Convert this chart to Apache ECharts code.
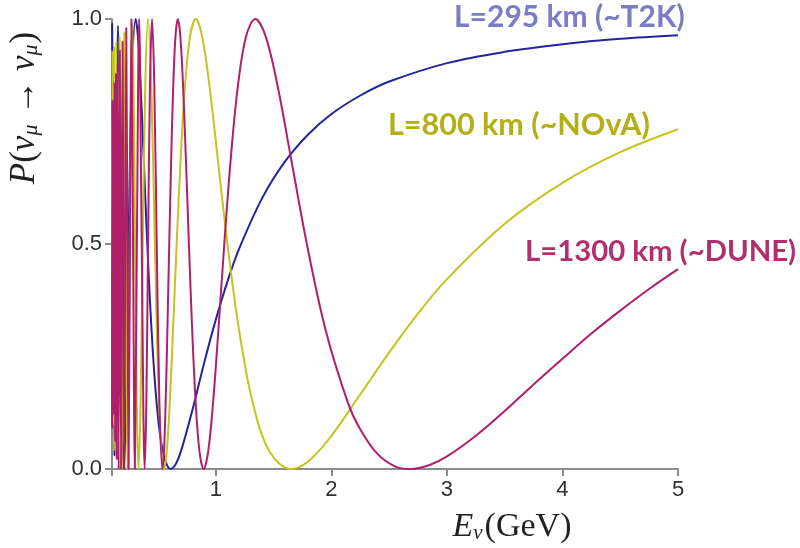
<!DOCTYPE html>
<html>
<head>
<meta charset="utf-8">
<script src="https://cdn.jsdelivr.net/npm/echarts@6/dist/echarts.min.js"></script>
<style>
html, body { margin: 0; padding: 0; background: #fff; }
#chart { width: 800px; height: 548px; }
</style>
</head>
<body>
<div id="chart"></div>
<script>
// survival probability, [E (GeV), P]
var t2kData = [
    [0.100, 0.98], [0.1014, 0.99], [0.1106, 0.50], [0.1216, 0.03], [0.1352, 0.50],
    [0.1521, 0.985], [0.1622, 0.854], [0.1738, 0.50], [0.1871, 0.146], [0.2027, 0.00],
    [0.2212, 0.146], [0.2433, 0.50], [0.2703, 0.854], [0.3041, 1.00], [0.3244, 0.962],
    [0.3476, 0.854], [0.3743, 0.691], [0.4055, 0.50], [0.4424, 0.309], [0.4866, 0.146],
    [0.5407, 0.038], [0.6082, 0.00], [0.65, 0.010], [0.70, 0.042], [0.80, 0.135],
    [0.90, 0.238], [1.00, 0.333], [1.10, 0.417], [1.20, 0.489], [1.40, 0.602],
    [1.60, 0.684], [1.80, 0.744], [2.00, 0.789], [2.25, 0.830], [2.50, 0.861],
    [3.00, 0.902], [3.50, 0.927], [4.00, 0.944], [4.50, 0.956], [5.00, 0.964]
];
var novaData = [
    [0.100, 0.51], [0.1031, 0.93], [0.1100, 0.10], [0.1178, 0.94], [0.1269, 0.04],
    [0.1374, 0.95], [0.1499, 0.02], [0.1649, 0.96], [0.1736, 0.50], [0.1833, 0.00],
    [0.1940, 0.50], [0.2062, 0.97], [0.2199, 0.50], [0.2356, 0.00], [0.2538, 0.50],
    [0.2749, 0.99], [0.2869, 0.854], [0.2999, 0.50], [0.3142, 0.146], [0.3299, 0.00],
    [0.3472, 0.146], [0.3665, 0.50], [0.3881, 0.854], [0.4123, 1.00], [0.4398, 0.854],
    [0.4712, 0.50], [0.5075, 0.146], [0.5498, 0.00], [0.5737, 0.038], [0.5998, 0.146],
    [0.6283, 0.309], [0.6597, 0.50], [0.6945, 0.691], [0.7331, 0.854], [0.7762, 0.962],
    [0.8247, 1.00], [0.8797, 0.962], [0.9425, 0.854], [1.0150, 0.691], [1.0996, 0.50],
    [1.1996, 0.309], [1.3195, 0.146], [1.4661, 0.038], [1.6494, 0.00], [1.80, 0.017],
    [2.00, 0.074], [2.25, 0.166], [2.50, 0.259], [2.75, 0.346], [3.00, 0.422],
    [3.50, 0.545], [4.00, 0.636], [4.50, 0.704], [5.00, 0.755]
];
var duneData = [
    [0.100, 0.09], [0.1031, 0.82], [0.1072, 0.17], [0.1117, 0.82], [0.1165, 0.12],
    [0.1218, 0.86], [0.1276, 0.06], [0.1340, 0.88], [0.1411, 0.02], [0.1489, 0.90],
    [0.1577, 0.00], [0.1675, 0.93], [0.1729, 0.50], [0.1787, 0.00], [0.1848, 0.50],
    [0.1914, 0.95], [0.1985, 0.50], [0.2062, 0.00], [0.2144, 0.50], [0.2234, 0.98],
    [0.2331, 0.50], [0.2437, 0.00], [0.2553, 0.50], [0.2680, 1.00], [0.2821, 0.50],
    [0.2978, 0.00], [0.3153, 0.50], [0.3350, 1.00], [0.3574, 0.50], [0.3829, 0.00],
    [0.3971, 0.146], [0.4123, 0.50], [0.4288, 0.854], [0.4467, 1.00], [0.4661, 0.854],
    [0.4873, 0.50], [0.5105, 0.146], [0.5360, 0.00], [0.5498, 0.038], [0.5643, 0.146],
    [0.5795, 0.309], [0.5956, 0.50], [0.6126, 0.691], [0.6306, 0.854], [0.6497, 0.962],
    [0.6700, 1.00], [0.6917, 0.962], [0.7147, 0.854], [0.7394, 0.691], [0.7658, 0.50],
    [0.7941, 0.309], [0.8247, 0.146], [0.8577, 0.038], [0.8934, 0.00], [0.9322, 0.038],
    [0.9746, 0.146], [1.0210, 0.309], [1.0721, 0.50], [1.1285, 0.691], [1.1912, 0.854],
    [1.2613, 0.962], [1.3401, 1.00], [1.4294, 0.962], [1.5315, 0.854], [1.6493, 0.691],
    [1.7868, 0.50], [1.9492, 0.309], [2.1441, 0.146], [2.25, 0.088], [2.40, 0.033],
    [2.55, 0.006], [2.68, 0.00], [2.85, 0.009], [3.00, 0.028], [3.25, 0.074],
    [3.50, 0.129], [3.75, 0.188], [4.00, 0.245], [4.25, 0.301], [4.50, 0.352],
    [4.75, 0.400], [5.00, 0.444]
];

var xTicks = [0.1, 1, 2, 3, 4, 5];
var xLabels = [1, 2, 3, 4, 5];
var curveNames = ['L=295 km (~T2K)', 'L=800 km (~NOvA)', 'L=1300 km (~DUNE)'];

var lineColors = ['#24249c', '#c6c31f', '#b01f69'];
var tagColors = ['#7c7cc6', '#b3b017', '#b0306c'];
var axisGrey = '#8c8c8c';
var serif = '"Liberation Serif", "DejaVu Serif", serif';

var chart = echarts.init(document.getElementById('chart'), null, {renderer: 'canvas'});

function makeSeries(name, data, color) {
    return {
        name: name,
        type: 'line',
        data: data,
        showSymbol: false,
        symbol: 'none',
        smooth: 0.35,
        clip: true,
        lineStyle: {color: color, width: 2}
    };
}

function tag(text, x, y, color, size) {
    return {
        type: 'text',
        x: x,
        y: y,
        style: {
            text: text,
            fill: color,
            font: 'bold ' + size + 'px Lato, "Open Sans", sans-serif',
            textAlign: 'left',
            textVerticalAlign: 'middle'
        }
    };
}

var option = {
    animation: false,
    grid: {left: 112, right: 122, top: 19, bottom: 79},
    xAxis: {
        type: 'value',
        min: 0.1,
        max: 5,
        axisLine: {lineStyle: {color: axisGrey, width: 2}},
        axisTick: {customValues: xTicks, length: 7, lineStyle: {color: axisGrey, width: 2}},
        axisLabel: {
            customValues: xLabels,
            fontSize: 22,
            fontFamily: '"Liberation Sans", Arial, sans-serif',
            color: '#303030',
            margin: 10
        },
        splitLine: {show: false}
    },
    yAxis: {
        type: 'value',
        min: 0,
        max: 1,
        interval: 0.5,
        axisLine: {show: true, lineStyle: {color: axisGrey, width: 2}},
        axisTick: {show: true, length: 7, lineStyle: {color: axisGrey, width: 2}},
        axisLabel: {
            fontSize: 22,
            fontFamily: '"Liberation Sans", Arial, sans-serif',
            color: '#303030',
            margin: 10,
            formatter: function (v) { return v.toFixed(1); }
        },
        splitLine: {show: false}
    },
    series: [
        makeSeries(curveNames[0], t2kData, lineColors[0]),
        makeSeries(curveNames[1], novaData, lineColors[1]),
        makeSeries(curveNames[2], duneData, lineColors[2])
    ],
    graphic: [
        tag(curveNames[0], 454, 17, tagColors[0], 30),
        tag(curveNames[1], 388, 125, tagColors[1], 30.5),
        tag(curveNames[2], 525, 252, tagColors[2], 29.3),
        {
            // y axis title, rotated
            type: 'text',
            x: 25,
            y: 108,
            rotation: Math.PI / 2,
            style: {
                text: '{i|P}{n|(}{i|ν}{s|μ}{n| → }{i|ν}{s|μ}{n|)}',
                textAlign: 'center',
                textVerticalAlign: 'middle',
                fill: '#222',
                rich: {
                    i: {fontFamily: serif, fontStyle: 'italic', fontSize: 35, fill: '#222'},
                    n: {fontFamily: serif, fontSize: 35, fill: '#222'},
                    s: {fontFamily: serif, fontStyle: 'italic', fontSize: 22, fill: '#222', verticalAlign: 'bottom', padding: [0, 1, 0, 0]}
                }
            }
        },
        {
            type: 'text',
            x: 512,
            y: 527,
            style: {
                text: '{i|E}{s|ν}{n|(GeV)}',
                textAlign: 'center',
                textVerticalAlign: 'middle',
                fill: '#222',
                rich: {
                    i: {fontFamily: serif, fontStyle: 'italic', fontSize: 34, fill: '#222'},
                    n: {fontFamily: serif, fontSize: 34, fill: '#222'},
                    s: {fontFamily: serif, fontStyle: 'italic', fontSize: 21, fill: '#222', verticalAlign: 'bottom', padding: [0, 2, 0, 0]}
                }
            }
        }
    ]
};

chart.setOption(option);
</script>
</body>
</html>
